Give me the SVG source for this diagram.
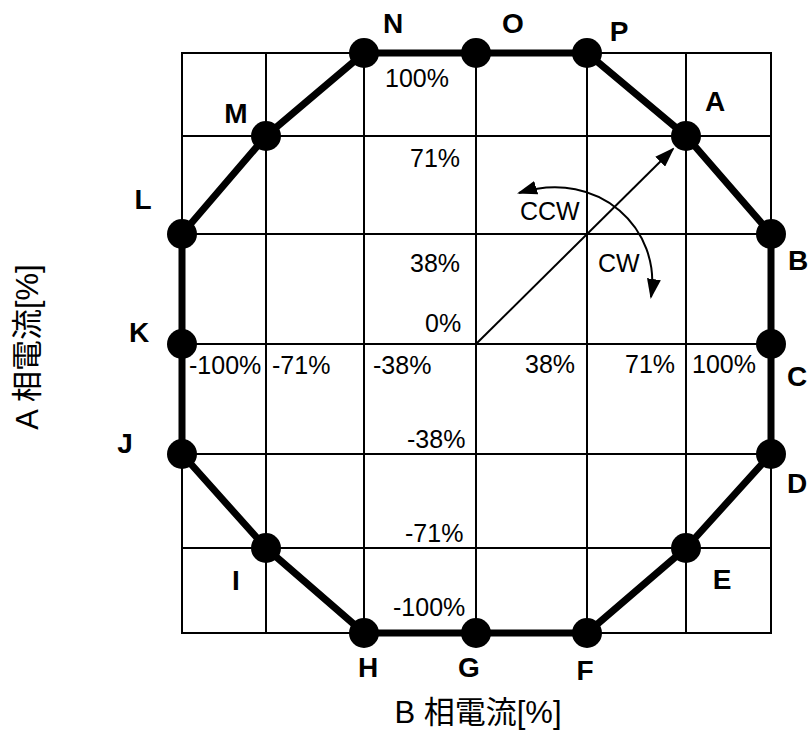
<svg xmlns="http://www.w3.org/2000/svg" width="808" height="735" viewBox="0 0 808 735">
<style>
.grid{stroke:#000;stroke-width:2;fill:none}
.oct{stroke:#000;stroke-width:7;fill:none;stroke-linejoin:round}
.dot{fill:#000}
.lbl{font-family:"Liberation Sans",Arial,sans-serif;font-weight:bold;font-size:28px;fill:#000}
.pct{font-family:"Liberation Sans",Arial,sans-serif;font-size:25px;fill:#000}
.ax{font-family:"Liberation Sans","Noto Sans CJK JP",sans-serif;font-size:31px;fill:#000}
.arr{stroke:#000;stroke-width:2;fill:none}
</style>
<defs>
<marker id="ah" viewBox="0 0 20 14" refX="18" refY="7" markerWidth="20" markerHeight="14" markerUnits="userSpaceOnUse" orient="auto-start-reverse">
<path d="M0,0 L20,7 L0,14 Z" fill="#000"/>
</marker>
</defs>
<rect width="808" height="735" fill="#fff"/>
<g id="grid">
<rect class="grid" x="182" y="53" width="589" height="580"/>
<line class="grid" x1="266" y1="53" x2="266" y2="633"/>
<line class="grid" x1="364" y1="53" x2="364" y2="633"/>
<line class="grid" x1="476" y1="53" x2="476" y2="633"/>
<line class="grid" x1="587" y1="53" x2="587" y2="633"/>
<line class="grid" x1="686" y1="53" x2="686" y2="633"/>
<line class="grid" x1="182" y1="136" x2="771" y2="136"/>
<line class="grid" x1="182" y1="234" x2="771" y2="234"/>
<line class="grid" x1="182" y1="344" x2="771" y2="344"/>
<line class="grid" x1="182" y1="454" x2="771" y2="454"/>
<line class="grid" x1="182" y1="548" x2="771" y2="548"/>
</g>
<g id="connectors">
<path class="oct" d="M364,53 L476,53 L587,53 L686,136 L771,234 L771,344 L771,454 L686,548 L587,633 L476,633 L364,633 L266,548 L182,454 L182,344 L182,234 L266,136 Z"/>
<line class="arr" x1="476" y1="344" x2="673" y2="149" marker-end="url(#ah)"/>
<path class="arr" d="M519,193 C600,168 662,230 651,297" marker-start="url(#ah)" marker-end="url(#ah)"/>
</g>
<g id="node-N"><circle class="dot" cx="364" cy="53" r="15"/><text class="lbl" x="393" y="33" text-anchor="middle">N</text></g>
<g id="node-O"><circle class="dot" cx="476" cy="53" r="15"/><text class="lbl" x="513" y="33" text-anchor="middle">O</text></g>
<g id="node-P"><circle class="dot" cx="587" cy="53" r="15"/><text class="lbl" x="619" y="41" text-anchor="middle">P</text></g>
<g id="node-A"><circle class="dot" cx="686" cy="136" r="15"/><text class="lbl" x="715" y="111" text-anchor="middle">A</text></g>
<g id="node-B"><circle class="dot" cx="771" cy="234" r="15"/><text class="lbl" x="788" y="270">B</text></g>
<g id="node-C"><circle class="dot" cx="771" cy="344" r="15"/><text class="lbl" x="787" y="386">C</text></g>
<g id="node-D"><circle class="dot" cx="771" cy="454" r="15"/><text class="lbl" x="787" y="493">D</text></g>
<g id="node-E"><circle class="dot" cx="686" cy="548" r="15"/><text class="lbl" x="722" y="589" text-anchor="middle">E</text></g>
<g id="node-F"><circle class="dot" cx="587" cy="633" r="15"/><text class="lbl" x="585" y="680" text-anchor="middle">F</text></g>
<g id="node-G"><circle class="dot" cx="476" cy="633" r="15"/><text class="lbl" x="469" y="677" text-anchor="middle">G</text></g>
<g id="node-H"><circle class="dot" cx="364" cy="633" r="15"/><text class="lbl" x="368" y="677" text-anchor="middle">H</text></g>
<g id="node-I"><circle class="dot" cx="266" cy="548" r="15"/><text class="lbl" x="236" y="590" text-anchor="middle">I</text></g>
<g id="node-J"><circle class="dot" cx="182" cy="454" r="15"/><text class="lbl" x="125" y="453" text-anchor="middle">J</text></g>
<g id="node-K"><circle class="dot" cx="182" cy="344" r="15"/><text class="lbl" x="139" y="342" text-anchor="middle">K</text></g>
<g id="node-L"><circle class="dot" cx="182" cy="234" r="15"/><text class="lbl" x="143" y="209" text-anchor="middle">L</text></g>
<g id="node-M"><circle class="dot" cx="266" cy="136" r="15"/><text class="lbl" x="236" y="123" text-anchor="middle">M</text></g>
<g id="labels">
<text class="pct" x="385" y="87">100%</text>
<text class="pct" x="410" y="167">71%</text>
<text class="pct" x="410" y="272">38%</text>
<text class="pct" x="425" y="332">0%</text>
<text class="pct" x="189" y="374">-100%</text>
<text class="pct" x="272" y="374">-71%</text>
<text class="pct" x="373" y="374">-38%</text>
<text class="pct" x="525" y="373">38%</text>
<text class="pct" x="625" y="373">71%</text>
<text class="pct" x="692" y="373">100%</text>
<text class="pct" x="407" y="448">-38%</text>
<text class="pct" x="405" y="542">-71%</text>
<text class="pct" x="393" y="616">-100%</text>
<text class="pct" x="520" y="220">CCW</text>
<text class="pct" x="598" y="272">CW</text>
<text class="ax" x="478" y="723" text-anchor="middle">B 相電流[%]</text>
<text class="ax" transform="translate(38,347) rotate(-90)" text-anchor="middle">A 相電流[%]</text>
</g>
</svg>
